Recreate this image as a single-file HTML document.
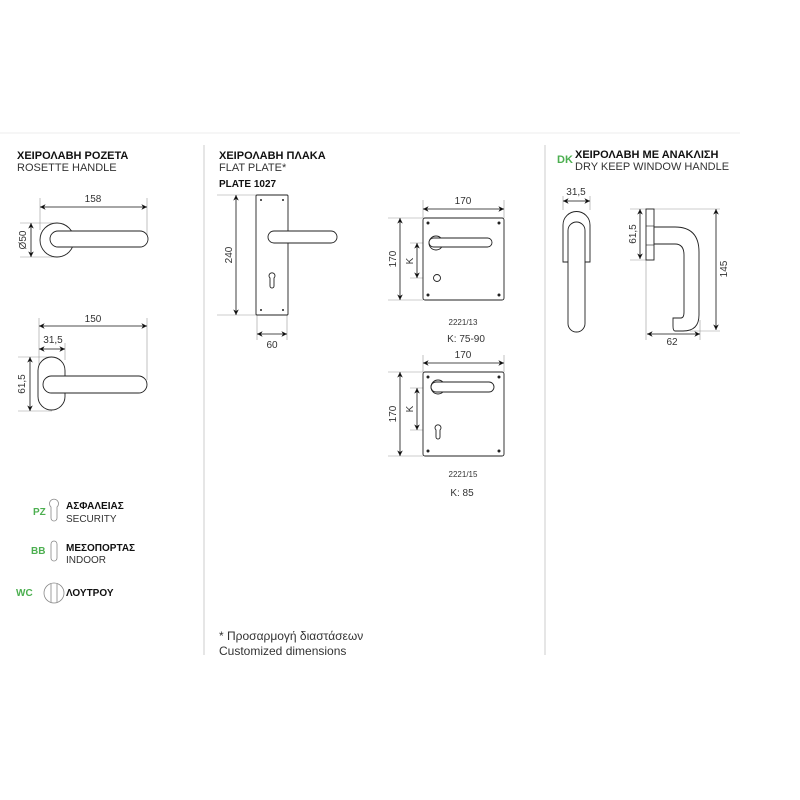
<!DOCTYPE html>
<html><head><meta charset="utf-8"><style>
html,body{margin:0;padding:0;background:#fff;width:800px;height:800px;overflow:hidden}
text{font-family:"Liberation Sans",sans-serif;fill:#333}
.b{font-weight:bold;fill:#111}
.g{fill:#4caf50}
</style></head><body>
<svg width="800" height="800" viewBox="0 0 800 800" xmlns="http://www.w3.org/2000/svg">
<defs>
<marker id="a" viewBox="0 0 10 10" refX="10" refY="5" markerWidth="7" markerHeight="7" orient="auto-start-reverse"><path d="M0,0 L10,5 L0,10 L3,5z" fill="#111"/></marker>
</defs>
<line x1="0" y1="133" x2="740" y2="133" stroke="#eee"/>
<line x1="204" y1="145" x2="204" y2="655" stroke="#ccc"/>
<line x1="545" y1="145" x2="545" y2="655" stroke="#ccc"/>
<g font-size="11">
<text x="17" y="159" class="b">ΧΕΙΡΟΛΑΒΗ ΡΟΖΕΤΑ</text>
<text x="17" y="171">ROSETTE HANDLE</text>
<text x="219" y="159" class="b">ΧΕΙΡΟΛΑΒΗ ΠΛΑΚΑ</text>
<text x="219" y="171">FLAT PLATE*</text>
<text x="219" y="187" class="b" font-size="10">PLATE 1027</text>
<text x="575" y="158" class="b">ΧΕΙΡΟΛΑΒΗ ΜΕ ΑΝΑΚΛΙΣΗ</text>
<text x="575" y="170">DRY KEEP WINDOW HANDLE</text>
<text x="557" y="163" class="g" font-weight="bold">DK</text>
</g>
<g stroke="#999" stroke-width="0.6" fill="none">
<path d="M40 198V230M147 198V240M20 223H57M20 257H57"/>
<path d="M39 318V370M147 318V380M65 343V360M18 357H52M18 411H52"/>
<path d="M217 195H256M217 315H256M257 315V340M287 315V340"/>
<path d="M423 200V218M504 200V218M388 218H423M388 300H423M410 243H436M410 278H437"/>
<path d="M423 355V372M504 355V372M388 372H423M388 456H423M410 388H438M410 430H438"/>
<path d="M563 196V210M590 196V210M630 209H720M630 260H650M646 260V340M700 320V340M690 331H720"/>
</g>
<g stroke="#111" stroke-width="0.8" fill="none" marker-start="url(#a)" marker-end="url(#a)">
<line x1="40" y1="207" x2="147" y2="207"/>
<line x1="31" y1="223" x2="31" y2="257"/>
<line x1="39" y1="326" x2="147" y2="326"/>
<line x1="39" y1="349" x2="65" y2="349"/>
<line x1="30" y1="357" x2="30" y2="411"/>
<line x1="236" y1="195" x2="236" y2="315"/>
<line x1="257" y1="334" x2="287" y2="334"/>
<line x1="423" y1="209" x2="504" y2="209"/>
<line x1="400" y1="218" x2="400" y2="300"/>
<line x1="417" y1="243" x2="417" y2="278"/>
<line x1="423" y1="363" x2="504" y2="363"/>
<line x1="400" y1="372" x2="400" y2="456"/>
<line x1="417" y1="388" x2="417" y2="430"/>
<line x1="563" y1="201" x2="590" y2="201"/>
<line x1="640" y1="209" x2="640" y2="259"/>
<line x1="716" y1="209" x2="716" y2="330"/>
<line x1="647" y1="334" x2="700" y2="334"/>
</g>
<g font-size="10" text-anchor="middle">
<text x="93" y="202">158</text>
<text x="93" y="322">150</text>
<text x="53" y="343">31,5</text>
<text x="0" y="0" transform="translate(26,240) rotate(-90)">Ø50</text>
<text x="0" y="0" transform="translate(25,384) rotate(-90)">61,5</text>
<text x="0" y="0" transform="translate(232,255) rotate(-90)">240</text>
<text x="272" y="348">60</text>
<text x="463" y="204">170</text>
<text x="0" y="0" transform="translate(396,259) rotate(-90)">170</text>
<text x="0" y="0" transform="translate(413,261) rotate(-90)">K</text>
<text x="463" y="325" font-size="8">2221/13</text>
<text x="466" y="342">K: 75-90</text>
<text x="463" y="358">170</text>
<text x="0" y="0" transform="translate(396,414) rotate(-90)">170</text>
<text x="0" y="0" transform="translate(413,409) rotate(-90)">K</text>
<text x="463" y="477" font-size="8">2221/15</text>
<text x="462" y="496">K: 85</text>
<text x="576" y="195">31,5</text>
<text x="0" y="0" transform="translate(636,234) rotate(-90)">61,5</text>
<text x="0" y="0" transform="translate(727,269) rotate(-90)">145</text>
<text x="672" y="345">62</text>
</g>
<g stroke="#222" stroke-width="0.9" fill="#fff">
<circle cx="57" cy="240" r="17"/>
<rect x="50" y="231" width="98" height="16" rx="8"/>
<rect x="38" y="357" width="27" height="53" rx="13.5"/>
<rect x="43" y="376" width="104" height="17" rx="8.5"/>
<rect x="256" y="195" width="32" height="120" rx="1"/>
<rect x="268" y="231" width="69" height="12" rx="6"/>
<path d="M270 278A3 3 0 1 1 274 278V286A2 2 0 0 1 270 286Z" fill="none"/>
<rect x="423" y="218" width="81" height="82" rx="2"/>
<circle cx="436" cy="243" r="7"/>
<rect x="429" y="238" width="63" height="9" rx="4.5"/>
<circle cx="437" cy="278" r="3.5"/>
<rect x="423" y="372" width="81" height="84" rx="2"/>
<circle cx="438" cy="387" r="7"/>
<rect x="431" y="382" width="63" height="10" rx="5"/>
<path d="M436 430A3 3 0 1 1 440 430V437A2 2 0 0 1 436 437Z" fill="none"/>
<path d="M563 225a13.5 13.5 0 0 1 27 0V262H563Z"/>
<rect x="568" y="222" width="17" height="110" rx="8.5"/>
<rect x="646" y="209" width="8" height="51"/>
<path d="M654 227H675Q699 227 699 252V315Q699 331 683 331H675Q673 331 673 326V318H681Q684 318 684 312V255Q684 244 675 244H654Z"/>
</g>
<g fill="none" stroke="#222" stroke-width="0.6">
<line x1="646" y1="226" x2="654" y2="226"/><line x1="646" y1="245" x2="654" y2="245"/>
</g>
<g fill="#222">
<circle cx="428" cy="223" r="1.5"/><circle cx="499" cy="223" r="1.5"/><circle cx="428" cy="295" r="1.5"/><circle cx="499" cy="295" r="1.5"/>
<circle cx="428" cy="377" r="1.5"/><circle cx="499" cy="377" r="1.5"/><circle cx="428" cy="451" r="1.5"/><circle cx="499" cy="451" r="1.5"/>
<circle cx="261" cy="200" r="1"/><circle cx="283" cy="200" r="1"/><circle cx="261" cy="310" r="1"/><circle cx="283" cy="310" r="1"/>
</g>
<g font-size="10">
<text x="33" y="515" class="g" font-weight="bold">PZ</text>
<text x="31" y="554" class="g" font-weight="bold">BB</text>
<text x="16" y="596" class="g" font-weight="bold">WC</text>
<text x="66" y="509" class="b">ΑΣΦΑΛΕΙΑΣ</text>
<text x="66" y="522">SECURITY</text>
<text x="66" y="551" class="b">ΜΕΣΟΠΟΡΤΑΣ</text>
<text x="66" y="563">INDOOR</text>
<text x="66" y="596" class="b">ΛΟΥΤΡΟΥ</text>
</g>
<g fill="none" stroke="#888" stroke-width="0.8">
<path d="M51 507A4.5 4.5 0 1 1 57 507V518A3 3 0 0 1 51 518Z"/>
<rect x="51" y="541" width="6" height="20" rx="3"/>
<circle cx="54" cy="593" r="10"/><path d="M51 584V602M57 584V602"/>
</g>
<text x="219" y="640" font-size="12">* Προσαρμογή διαστάσεων</text>
<text x="219" y="655" font-size="12">Customized dimensions</text>
</svg>
</body></html>
